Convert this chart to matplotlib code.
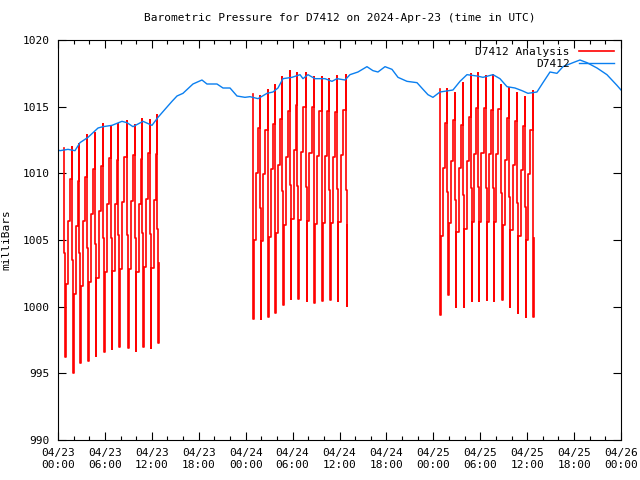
import matplotlib
matplotlib.use("Agg")
import matplotlib.pyplot as plt
from matplotlib.ticker import MultipleLocator
import numpy as np

# station pressure, hours since 04/23 00:00 UTC
obs_hours = [0.0, 0.26, 1.28, 2.17, 2.81, 3.84, 5.12, 5.75, 6.91, 8.18, 8.82, 9.59,
             10.87, 12.02, 12.79, 13.68, 14.58, 15.22, 15.98, 17.26, 18.41, 19.05,
             20.33, 21.1, 22.0, 22.89, 23.91, 24.55, 25.58, 26.73, 27.49, 28.13,
             28.77, 29.92, 30.95, 31.33, 31.97, 32.86, 34.14, 35.04, 35.68, 36.7,
             37.34, 38.36, 39.51, 40.28, 40.92, 41.82, 42.71, 43.48, 44.63, 45.91,
             46.68, 47.31, 47.95, 48.85, 50.51, 51.41, 52.3, 53.58, 54.35, 55.63,
             56.52, 57.42, 58.44, 59.34, 60.1, 61.25, 62.02, 62.92, 63.81, 64.58,
             65.86, 66.75, 67.65, 68.93, 70.2, 71.48, 72.0]
obs_mb = [1011.75, 1011.7, 1011.8, 1011.7, 1012.3, 1012.7, 1013.4, 1013.5, 1013.6,
          1013.9, 1013.8, 1013.5, 1013.9, 1013.6, 1014.2, 1014.8, 1015.4, 1015.8,
          1016.0, 1016.7, 1017.0, 1016.7, 1016.7, 1016.4, 1016.4, 1015.8, 1015.7,
          1015.75, 1015.6, 1016.0, 1016.1, 1016.4, 1017.1, 1017.2, 1017.4, 1017.1,
          1017.4, 1017.1, 1017.1, 1016.9, 1017.1, 1017.0, 1017.4, 1017.6, 1018.0,
          1017.7, 1017.6, 1018.0, 1017.8, 1017.2, 1016.9, 1016.8, 1016.3, 1015.9,
          1015.7, 1016.1, 1016.25, 1016.9, 1017.4, 1017.3, 1017.2, 1017.4, 1017.1,
          1016.5, 1016.4, 1016.2, 1016.0, 1016.1, 1016.8, 1017.6, 1017.5, 1018.0,
          1018.3, 1018.5, 1018.3, 1017.9, 1017.4, 1016.6, 1016.25]

# analysis runs: column time, top and bottom of each swing
ana1_hours = [0.81, 1.83, 2.72, 3.75, 4.73, 5.8, 6.78, 7.71, 8.86, 9.85, 10.78, 11.77, 12.7]
ana1_top = [1011.9, 1012.0, 1012.2, 1012.9, 1013.05, 1013.7, 1013.55, 1013.7, 1013.9,
            1013.6, 1014.05, 1014.0, 1014.4]
ana1_bot = [996.2, 995.0, 995.8, 995.9, 996.3, 996.6, 996.8, 997.0, 996.9, 996.7,
            997.0, 996.9, 997.3]

ana2_hours = [24.9, 25.8, 26.8, 27.7, 28.7, 29.7, 30.6, 31.7, 32.7, 33.7, 34.7, 35.7, 36.8]
ana2_top = [1015.95, 1015.8, 1016.25, 1016.6, 1017.25, 1017.7, 1017.5, 1017.5, 1017.2,
            1017.2, 1017.05, 1017.3, 1017.4]
ana2_bot = [999.1, 999.05, 999.25, 999.55, 1000.1, 1000.6, 1000.55, 1000.45, 1000.25,
            1000.4, 1000.5, 1000.4, 1000.05]

ana3_hours = [48.8, 49.8, 50.8, 51.8, 52.8, 53.7, 54.7, 55.6, 56.7, 57.7, 58.7, 59.7, 60.7]
ana3_top = [1016.3, 1016.3, 1016.0, 1016.75, 1017.45, 1017.5, 1017.3, 1017.4, 1016.6,
            1016.4, 1016.0, 1015.75, 1016.2]
ana3_bot = [999.4, 1000.9, 1000.0, 1000.0, 1000.4, 1000.4, 1000.5, 1000.4, 1000.5,
            1000.0, 999.5, 999.25, 999.25]

xtick_hours = list(range(0, 73, 6))
xtick_labels = ["04/23\n00:00", "04/23\n06:00", "04/23\n12:00", "04/23\n18:00",
                "04/24\n00:00", "04/24\n06:00", "04/24\n12:00", "04/24\n18:00",
                "04/25\n00:00", "04/25\n06:00", "04/25\n12:00", "04/25\n18:00",
                "04/26\n00:00"]


def swing_path(hours, tops, bots):
    # quick drop then stepped climb back up to the next run
    xs, ys = [], []
    n = len(hours)
    for i in range(n):
        t, T, B = hours[i], tops[i], bots[i]
        R = T - B
        M = T - 0.5 * R
        xs += [t, t, t + 0.1, t + 0.1]
        ys += [T, M, M, B]
        xs += [t + 0.16, t + 0.16]
        ys += [B, B + 0.35 * R]
        if i < n - 1:
            xs += [t + 0.45, t + 0.45, t + 0.72, t + 0.72]
            ys += [B + 0.35 * R, B + 0.65 * R, B + 0.65 * R, B + 0.85 * R]
            xs += [hours[i + 1]]
            ys += [B + 0.85 * R]
    return xs, ys


font = "DejaVu Sans Mono"
plt.rcParams["font.family"] = font
plt.rcParams["font.size"] = 8

fig = plt.figure(figsize=(6.4, 4.8), dpi=100)
ax = fig.add_axes([58 / 640, 40 / 480, 563 / 640, 400 / 480])

first = True
for h, tp, bt in [(ana1_hours, ana1_top, ana1_bot),
                  (ana2_hours, ana2_top, ana2_bot),
                  (ana3_hours, ana3_top, ana3_bot)]:
    xs, ys = swing_path(h, tp, bt)
    ax.plot(xs, ys, color="#ff0000", lw=1.2,
            label="D7412 Analysis" if first else None)
    first = False

ax.plot(obs_hours, obs_mb, color="#0a7ff0", lw=1.0, label="D7412")

ax.set_xlim(0, 72)
ax.set_ylim(990, 1020)
ax.set_xticks(xtick_hours)
ax.set_xticklabels(xtick_labels)
ax.xaxis.set_minor_locator(MultipleLocator(2))
ax.yaxis.set_major_locator(MultipleLocator(5))
ax.tick_params(which="major", direction="in", length=6, width=0.8,
               top=True, right=True, pad=6)
ax.tick_params(which="minor", direction="in", length=3, width=0.8,
               top=True, right=True)
for s in ax.spines.values():
    s.set_linewidth(0.8)

ax.set_ylabel("milliBars", labelpad=8)
ax.set_title("Barometric Pressure for D7412 on 2024-Apr-23 (time in UTC)",
             fontsize=8, pad=14)

ax.legend(loc="upper right", frameon=False, markerfirst=False,
          handlelength=3.2, borderaxespad=0.2, labelspacing=0.2,
          handletextpad=0.8, fontsize=8)

fig.savefig("out.png", dpi=100)
